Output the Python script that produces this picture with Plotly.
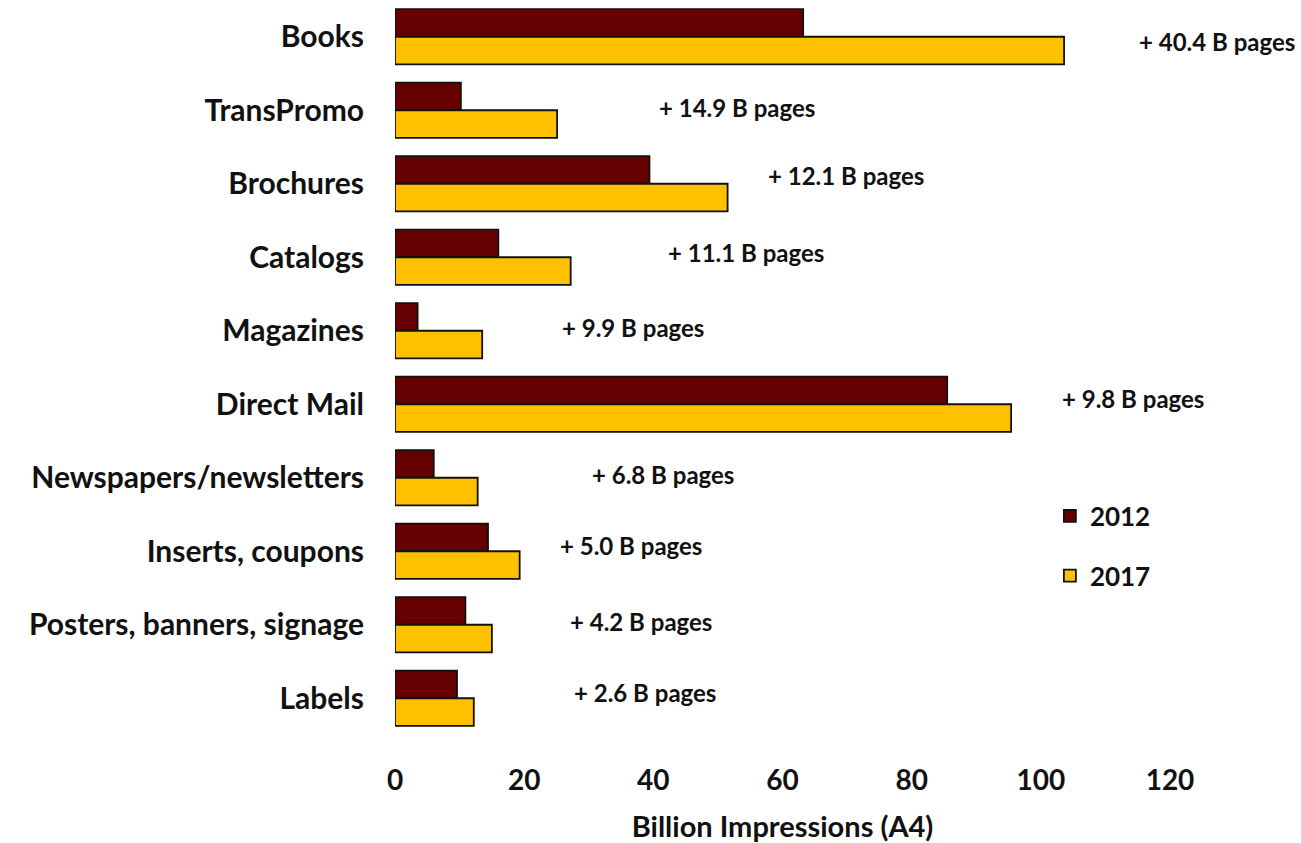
import plotly.graph_objects as go

categories = ["Books", "TransPromo", "Brochures", "Catalogs", "Magazines", "Direct Mail",
              "Newspapers/newsletters", "Inserts, coupons", "Posters, banners, signage", "Labels"]
values_2012 = [63.2, 10.2, 39.4, 16.0, 3.5, 85.5, 6.0, 14.4, 10.9, 9.6]
values_2017 = [103.6, 25.1, 51.5, 27.2, 13.5, 95.4, 12.8, 19.3, 15.0, 12.2]
growth_labels = ["+ 40.4 B pages", "+ 14.9 B pages", "+ 12.1 B pages", "+ 11.1 B pages",
                 "+ 9.9 B pages", "+ 9.8 B pages", "+ 6.8 B pages", "+ 5.0 B pages",
                 "+ 4.2 B pages", "+ 2.6 B pages"]
label_x = [114.9, 40.6, 57.4, 41.9, 25.5, 102.9, 30.2, 25.2, 26.8, 27.4]
label_shift = [-5, 3, 8, 5, 3, 6, 3, 6, 3, 6]

FONT = "Lato"

fig = go.Figure()
fig.add_trace(go.Bar(y=categories, x=values_2012, orientation="h", name="2012",
                     marker=dict(color="#660000", line=dict(color="#111111", width=1.8)),
                     legendgroup="a"))
fig.add_trace(go.Bar(y=categories, x=values_2017, orientation="h", name="2017",
                     marker=dict(color="#FFC000", line=dict(color="#111111", width=1.8)),
                     legendgroup="b"))

for c, t, lx, sh in zip(categories, growth_labels, label_x, label_shift):
    fig.add_annotation(x=lx, y=c, text=t, showarrow=False, xanchor="left", yshift=sh,
                       font=dict(family=FONT, size=24, color="#111111", weight="bold"))

fig.update_layout(
    width=1301, height=843,
    paper_bgcolor="white", plot_bgcolor="white",
    margin=dict(l=395, r=131, t=0, b=108),
    barmode="group", bargap=0.25, bargroupgap=0,
    font=dict(family=FONT, color="#111111"),
    legend=dict(x=0.845, y=0.33, xanchor="left", yanchor="top", traceorder="grouped",
                tracegroupgap=23, font=dict(family=FONT, size=26, weight="bold"),
                bgcolor="rgba(0,0,0,0)"),
    xaxis=dict(range=[0, 120], tickvals=[0, 20, 40, 60, 80, 100, 120], showgrid=False,
               zeroline=False, showline=False, ticks="", ticklabelstandoff=26,
               tickfont=dict(family=FONT, size=28, weight="bold"),
               title=dict(text="Billion Impressions (A4)", standoff=22,
                          font=dict(family=FONT, size=29, weight="bold"))),
    yaxis=dict(autorange="reversed", showgrid=False, showline=False, ticks="",
               ticklabelstandoff=30,
               tickfont=dict(family=FONT, size=30, weight="bold")),
)

fig.write_html("out.html")
